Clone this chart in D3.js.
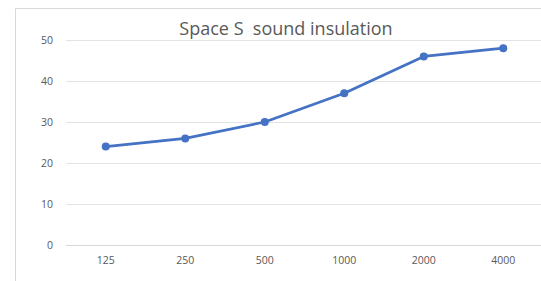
<!DOCTYPE html>
<meta charset="utf-8">
<script src="https://d3js.org/d3.v7.min.js"></script>
<style>
  body { margin: 0; background: #fff; }
  text { font-family: "Open Sans", "Liberation Sans", sans-serif; fill: #595959; }
</style>
<div id="chart"></div>
<script>
// data
const categories = ["125", "250", "500", "1000", "2000", "4000"];
const values = [24, 26, 30, 37, 46, 48];
const yTicks = [0, 10, 20, 30, 40, 50];
const title = "Space S\u00a0\u00a0sound insulation";

const W = 541, H = 281;
const margin = {top: 40, right: -2, bottom: 36, left: 66};
const width = W - margin.left - margin.right,
    height = H - margin.top - margin.bottom;

const svg = d3.select("#chart").append("svg")
    .attr("width", W).attr("height", H);

// chart frame (only top and left edges show)
svg.append("path")
    .attr("d", "M15.5,281 V8.5 H541")
    .attr("fill", "none")
    .attr("stroke", "#d9d9d9");

const g = svg.append("g")
    .attr("transform", `translate(${margin.left},${margin.top})`);

const x = d3.scaleBand().domain(categories).range([0, width]);
const y = d3.scaleLinear().domain([0, 50]).range([height, 0]);

// gridlines
g.selectAll(".grid").data(yTicks).join("line")
    .attr("x1", 0).attr("x2", width)
    .attr("y1", d => Math.round(y(d)) + 0.5)
    .attr("y2", d => Math.round(y(d)) + 0.5)
    .attr("stroke", d => d === 0 ? "#d9d9d9" : "#e3e3e3")
    .attr("stroke-width", 1);

// y labels
g.selectAll(".ylab").data(yTicks).join("text")
    .attr("x", -13).attr("y", d => y(d))
    .attr("dy", "0.35em")
    .attr("text-anchor", "end")
    .style("font-size", "10.5px")
    .text(d => d);

// x labels
g.selectAll(".xlab").data(categories).join("text")
    .attr("x", d => x(d) + x.bandwidth() / 2)
    .attr("y", height + 19)
    .attr("text-anchor", "middle")
    .style("font-size", "10.5px")
    .text(d => d);

// line
const pts = categories.map((c, i) => [c, values[i]]);
g.append("path")
    .datum(pts)
    .attr("fill", "none")
    .attr("stroke", "#4472c4")
    .attr("stroke-width", 2.75)
    .attr("stroke-linejoin", "round")
    .attr("d", d3.line()
      .x(d => x(d[0]) + x.bandwidth() / 2)
      .y(d => y(d[1])));

g.selectAll(".dot").data(pts).join("circle")
    .attr("cx", d => x(d[0]) + x.bandwidth() / 2)
    .attr("cy", d => y(d[1]))
    .attr("r", 4)
    .attr("fill", "#4472c4");

// title
svg.append("text")
    .attr("x", 286).attr("y", 35)
    .attr("text-anchor", "middle")
    .style("font-size", "18px")
    .text(title);
</script>
